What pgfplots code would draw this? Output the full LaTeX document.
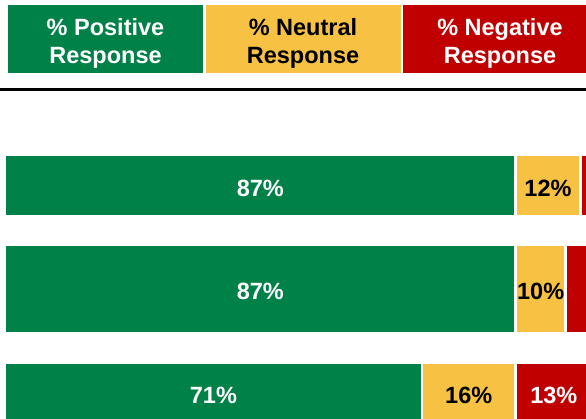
\documentclass[border=0pt]{standalone}
\usepackage{pgfplots}
\pgfplotsset{compat=1.18}
\usepackage{fontspec}
\setmainfont{Liberation Sans}
\definecolor{posg}{RGB}{0,129,72}
\definecolor{neuy}{RGB}{247,193,67}
\definecolor{negr}{RGB}{192,0,0}
\newcommand{\bigfont}{\fontsize{23.5}{28}\selectfont\bfseries}
\pgfplotsset{
  rowbar/.style={
    xbar stacked, hide axis, x=5.87pt, y=1pt,
    xmin=0, xmax=100, ymin=-50, ymax=50, enlargelimits=false,
    bar width=#1pt, anchor=west, clip=false,
    point meta=explicit symbolic,
    every node near coord/.style={anchor=center, font=\bigfont, yshift=-2.5pt},
  },
  segpos/.style={fill=posg, draw=white, line width=2.5pt, nodes near coords,
    every node near coord/.append style={text=white}},
  segneu/.style={fill=neuy, draw=white, line width=2.5pt, nodes near coords,
    every node near coord/.append style={text=black}},
  segneg/.style={fill=negr, draw=white, line width=2.5pt},
  segneglab/.style={fill=negr, draw=white, line width=2.5pt, nodes near coords,
    every node near coord/.append style={text=white}},
}
\begin{document}
\begin{tikzpicture}
\path[use as bounding box] (0,0) rectangle (586pt,-419pt);
\clip (0,0) rectangle (586pt,-419pt);
% header
\fill[posg] (8pt,-5pt) rectangle (203pt,-73pt);
\fill[neuy] (206pt,-5pt) rectangle (401pt,-73pt);
\fill[negr] (403pt,-5pt) rectangle (598pt,-73pt);
\node[anchor=base, text=white, font=\bigfont] at (105.5pt,-36pt) {\% Positive};
\node[anchor=base, text=white, font=\bigfont] at (105.5pt,-64pt) {Response};
\node[anchor=base, text=black, font=\bigfont] at (303pt,-36pt) {\% Neutral};
\node[anchor=base, text=black, font=\bigfont] at (303pt,-64pt) {Response};
\node[anchor=base, text=white, font=\bigfont] at (500pt,-36pt) {\% Negative};
\node[anchor=base, text=white, font=\bigfont] at (500pt,-64pt) {Response};
\draw[black, line width=3pt] (0,-90pt) -- (586pt,-90pt);
% row 1
\begin{axis}[rowbar=61.5, at={(5pt,-185.5pt)}]
\addplot[segpos] coordinates {(87,0) [87\%]};
\addplot[segneu] coordinates {(11,0) [12\%]};
\addplot[segneg] coordinates {(2,0)};
\end{axis}
% row 2
\begin{axis}[rowbar=88.5, at={(5pt,-289pt)}]
\addplot[segpos] coordinates {(87,0) [87\%]};
\addplot[segneu] coordinates {(8.5,0) [10\%]};
\addplot[segneg] coordinates {(4.5,0)};
\end{axis}
% row 3
\begin{axis}[rowbar=61.5, at={(5pt,-393pt)}]
\addplot[segpos] coordinates {(71,0) [71\%]};
\addplot[segneu] coordinates {(16,0) [16\%]};
\addplot[segneglab] coordinates {(13,0) [13\%]};
\end{axis}
\end{tikzpicture}
\end{document}
